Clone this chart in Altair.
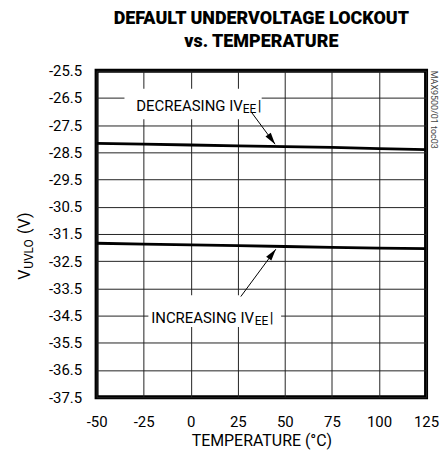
import altair as alt
import pandas as pd

# ---- data ----
temps = [-50, -25, 0, 25, 50, 75, 100, 125]
decreasing = [-28.17, -28.20, -28.23, -28.26, -28.29, -28.32, -28.36, -28.40]
increasing = [-31.84, -31.87, -31.90, -31.93, -31.96, -31.99, -32.02, -32.04]

y_ticks = [-37.5, -36.5, -35.5, -34.5, -33.5, -32.5, -31.5, -30.5, -29.5, -28.5, -27.5, -26.5, -25.5]
x_ticks = [-50, -25, 0, 25, 50, 75, 100, 125]

# annotation label pieces (text, anchor temp, anchor volt, font size, dx, dy)
ann_text = ["DECREASING IV", "EE", "|", "INCREASING IV", "EE", "|"]
ann_t = [-28.9, -28.9, -28.9, -21.0, -21.0, -21.0]
ann_v = [-26.78, -26.78, -26.78, -34.6, -34.6, -34.6]
ann_size = [15, 12, 15, 15, 12, 15]
ann_dx = [0, 107, 122, 0, 104, 119]
ann_dy = [0, 3, 0, 0, 3, 0]

# white boxes behind the labels
box_t1 = [-35.2, -22.5]
box_t2 = [37.7, 48.0]
box_v1 = [-26.16, -33.75]
box_v2 = [-27.28, -34.92]

# arrows: start and tip
arr_t1 = [32.4, 26.6]
arr_v1 = [-27.04, -33.80]
arr_t2 = [44.8, 45.2]
arr_v2 = [-28.20, -32.06]
arr_angle = [144, 37]

FONT = "Roboto"

rows = []
for t, d, i in zip(temps, decreasing, increasing):
    rows.append({"t": t, "v": d, "s": "dec"})
    rows.append({"t": t, "v": i, "s": "inc"})
lines_df = pd.DataFrame(rows)

xs = alt.Scale(domain=[-50, 125], nice=False, zero=False)
ys = alt.Scale(domain=[-37.5, -25.5], nice=False, zero=False)

MINUS = "\u2212"
x_axis = alt.Axis(values=x_ticks, labelExpr=f"replace(format(datum.value, 'd'), '{MINUS}', '-')",
                  title="TEMPERATURE (°C)", titleFont=FONT, titleFontSize=16, titleFontWeight="normal",
                  titlePadding=4, labelFont=FONT, labelFontSize=15, labelPadding=17,
                  labelOverlap=False, labelFlush=False,
                  ticks=False, domain=False, grid=True, gridColor="#222", gridWidth=1, gridOpacity=1,
                  labelColor="black", titleColor="black")
y_axis = alt.Axis(values=y_ticks, labelExpr=f"replace(format(datum.value, '.1f'), '{MINUS}', '-')",
                  title=None, labelFont=FONT, labelFontSize=15, labelPadding=15,
                  labelOverlap=False, labelFlush=False,
                  ticks=False, domain=False, grid=True, gridColor="#222", gridWidth=1, gridOpacity=1,
                  labelColor="black")


def X(field):
    return alt.X(field, scale=xs, axis=x_axis)


def Y(field):
    return alt.Y(field, scale=ys, axis=y_axis)


base_lines = alt.Chart(lines_df).mark_line(color="black", strokeWidth=2.8, clip=True).encode(
    x=X("t:Q"), y=Y("v:Q"), detail="s:N",
)

box_df = pd.DataFrame({"t1": box_t1, "t2": box_t2, "v1": box_v1, "v2": box_v2})
boxes = alt.Chart(box_df).mark_rect(color="white").encode(
    x=X("t1:Q"), x2="t2:Q", y=Y("v1:Q"), y2="v2:Q",
)

arr_df = pd.DataFrame({"t1": arr_t1, "v1": arr_v1, "t2": arr_t2, "v2": arr_v2, "ang": arr_angle})
arrow_lines = alt.Chart(arr_df).mark_rule(color="black", strokeWidth=1).encode(
    x=X("t1:Q"), x2="t2:Q", y=Y("v1:Q"), y2="v2:Q",
)
arrow_heads = alt.Chart(arr_df).mark_point(
    shape="M0,0 L-0.55,2 L0.55,2 Z", filled=True, color="black", size=140, opacity=1
).encode(
    x=X("t2:Q"), y=Y("v2:Q"), angle=alt.Angle("ang:Q", scale=None),
)

ann_layers = []
for txt, t, v, sz, dx, dy in zip(ann_text, ann_t, ann_v, ann_size, ann_dx, ann_dy):
    d = pd.DataFrame({"t": [t], "v": [v], "txt": [txt]})
    ann_layers.append(
        alt.Chart(d).mark_text(font=FONT, fontSize=sz, align="left", baseline="middle",
                               dx=dx, dy=dy, color="black").encode(
            x=X("t:Q"), y=Y("v:Q"), text="txt:N")
    )

# y axis title composed of pieces: V, subscript UVLO, (V)
ytitle_text = ["V", "UVLO", "(V)"]
ytitle_y = [210, 199, 164]
ytitle_x = [-67, -64, -67]
ytitle_size = [16, 12, 16]
ytitle_layers = []
for txt, yy, xx, sz in zip(ytitle_text, ytitle_y, ytitle_x, ytitle_size):
    d = pd.DataFrame({"txt": [txt]})
    ytitle_layers.append(
        alt.Chart(d).mark_text(font=FONT, fontSize=sz, align="left", baseline="alphabetic",
                               angle=270, color="black").encode(
            x=alt.value(xx), y=alt.value(yy), text="txt:N")
    )

wm = alt.Chart(pd.DataFrame({"txt": ["MAX9500/01 toc03"]})).mark_text(
    font=FONT, fontSize=9, align="left", baseline="middle", angle=90, color="#444"
).encode(x=alt.value(339), y=alt.value(0), text="txt:N")

chart = alt.layer(
    base_lines, boxes, arrow_lines, arrow_heads, *ann_layers, *ytitle_layers, wm
).properties(
    width=331, height=328,
    padding={"left": 89, "top": 62, "right": 14, "bottom": 54},
    autosize=alt.AutoSizeParams(type="none"),
    title=alt.TitleParams(
        text=["DEFAULT UNDERVOLTAGE LOCKOUT", "vs. TEMPERATURE"],
        font=FONT, fontSize=18, fontWeight=900, lineHeight=23,
        anchor="middle", offset=13, color="black",
    ),
).configure_view(stroke="black", strokeWidth=4)

chart.save("out.html", embed_options={"renderer": "svg", "actions": False})
